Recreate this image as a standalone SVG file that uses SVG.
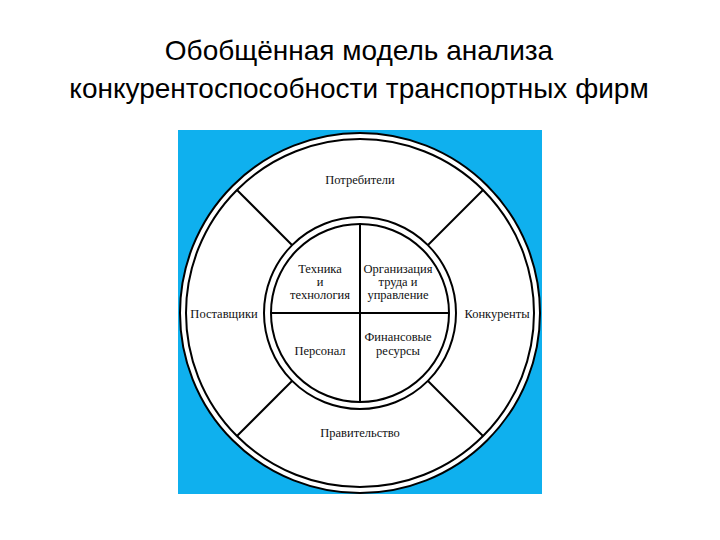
<svg xmlns="http://www.w3.org/2000/svg" width="720" height="540" viewBox="0 0 720 540">
<style>
.t{font-family:"Liberation Sans",Arial,sans-serif;font-size:28px;fill:#000;text-anchor:middle}
.l{font-family:"Liberation Serif","Times New Roman",serif;font-size:12.5px;fill:#111;text-anchor:middle}
.c{fill:none;stroke:#000;stroke-width:2}
.s{stroke:#000;stroke-width:2}
</style>
<rect width="720" height="540" fill="#fff"/>
<text class="t" x="359" y="60">Обобщённая модель анализа</text>
<text class="t" x="359" y="98">конкурентоспособности транспортных фирм</text>
<rect x="178" y="130" width="364" height="364" fill="#0fb0ee"/>
<g id="outer-ring">
<circle cx="360" cy="313" r="180" fill="#fff" stroke="#000" stroke-width="2"/>
<circle class="c" cx="360" cy="313" r="174"/>
</g>
<g id="inner-ring">
<circle class="c" cx="360" cy="313" r="96"/>
<circle class="c" cx="360" cy="313" r="89"/>
</g>
<g id="connectors">
<line class="s" x1="237" y1="190" x2="292" y2="245"/>
<line class="s" x1="483" y1="190" x2="428" y2="245"/>
<line class="s" x1="237" y1="436" x2="292" y2="381"/>
<line class="s" x1="483" y1="436" x2="428" y2="381"/>
<line class="s" x1="360" y1="224" x2="360" y2="402"/>
<line class="s" x1="271" y1="313" x2="449" y2="313"/>
</g>
<g id="consumers"><text class="l" x="360" y="184">Потребители</text></g>
<g id="government"><text class="l" x="360" y="437">Правительство</text></g>
<g id="suppliers"><text class="l" x="224" y="318">Поставщики</text></g>
<g id="competitors"><text class="l" x="497" y="318">Конкуренты</text></g>
<g id="tech"><text class="l" x="320" y="273">Техника</text><text class="l" x="320" y="286">и</text><text class="l" x="320" y="299">технология</text></g>
<g id="org"><text class="l" x="398" y="273">Организация</text><text class="l" x="398" y="286">труда и</text><text class="l" x="398" y="299">управление</text></g>
<g id="staff"><text class="l" x="320" y="355">Персонал</text></g>
<g id="finance"><text class="l" x="398" y="341">Финансовые</text><text class="l" x="398" y="355">ресурсы</text></g>
</svg>
